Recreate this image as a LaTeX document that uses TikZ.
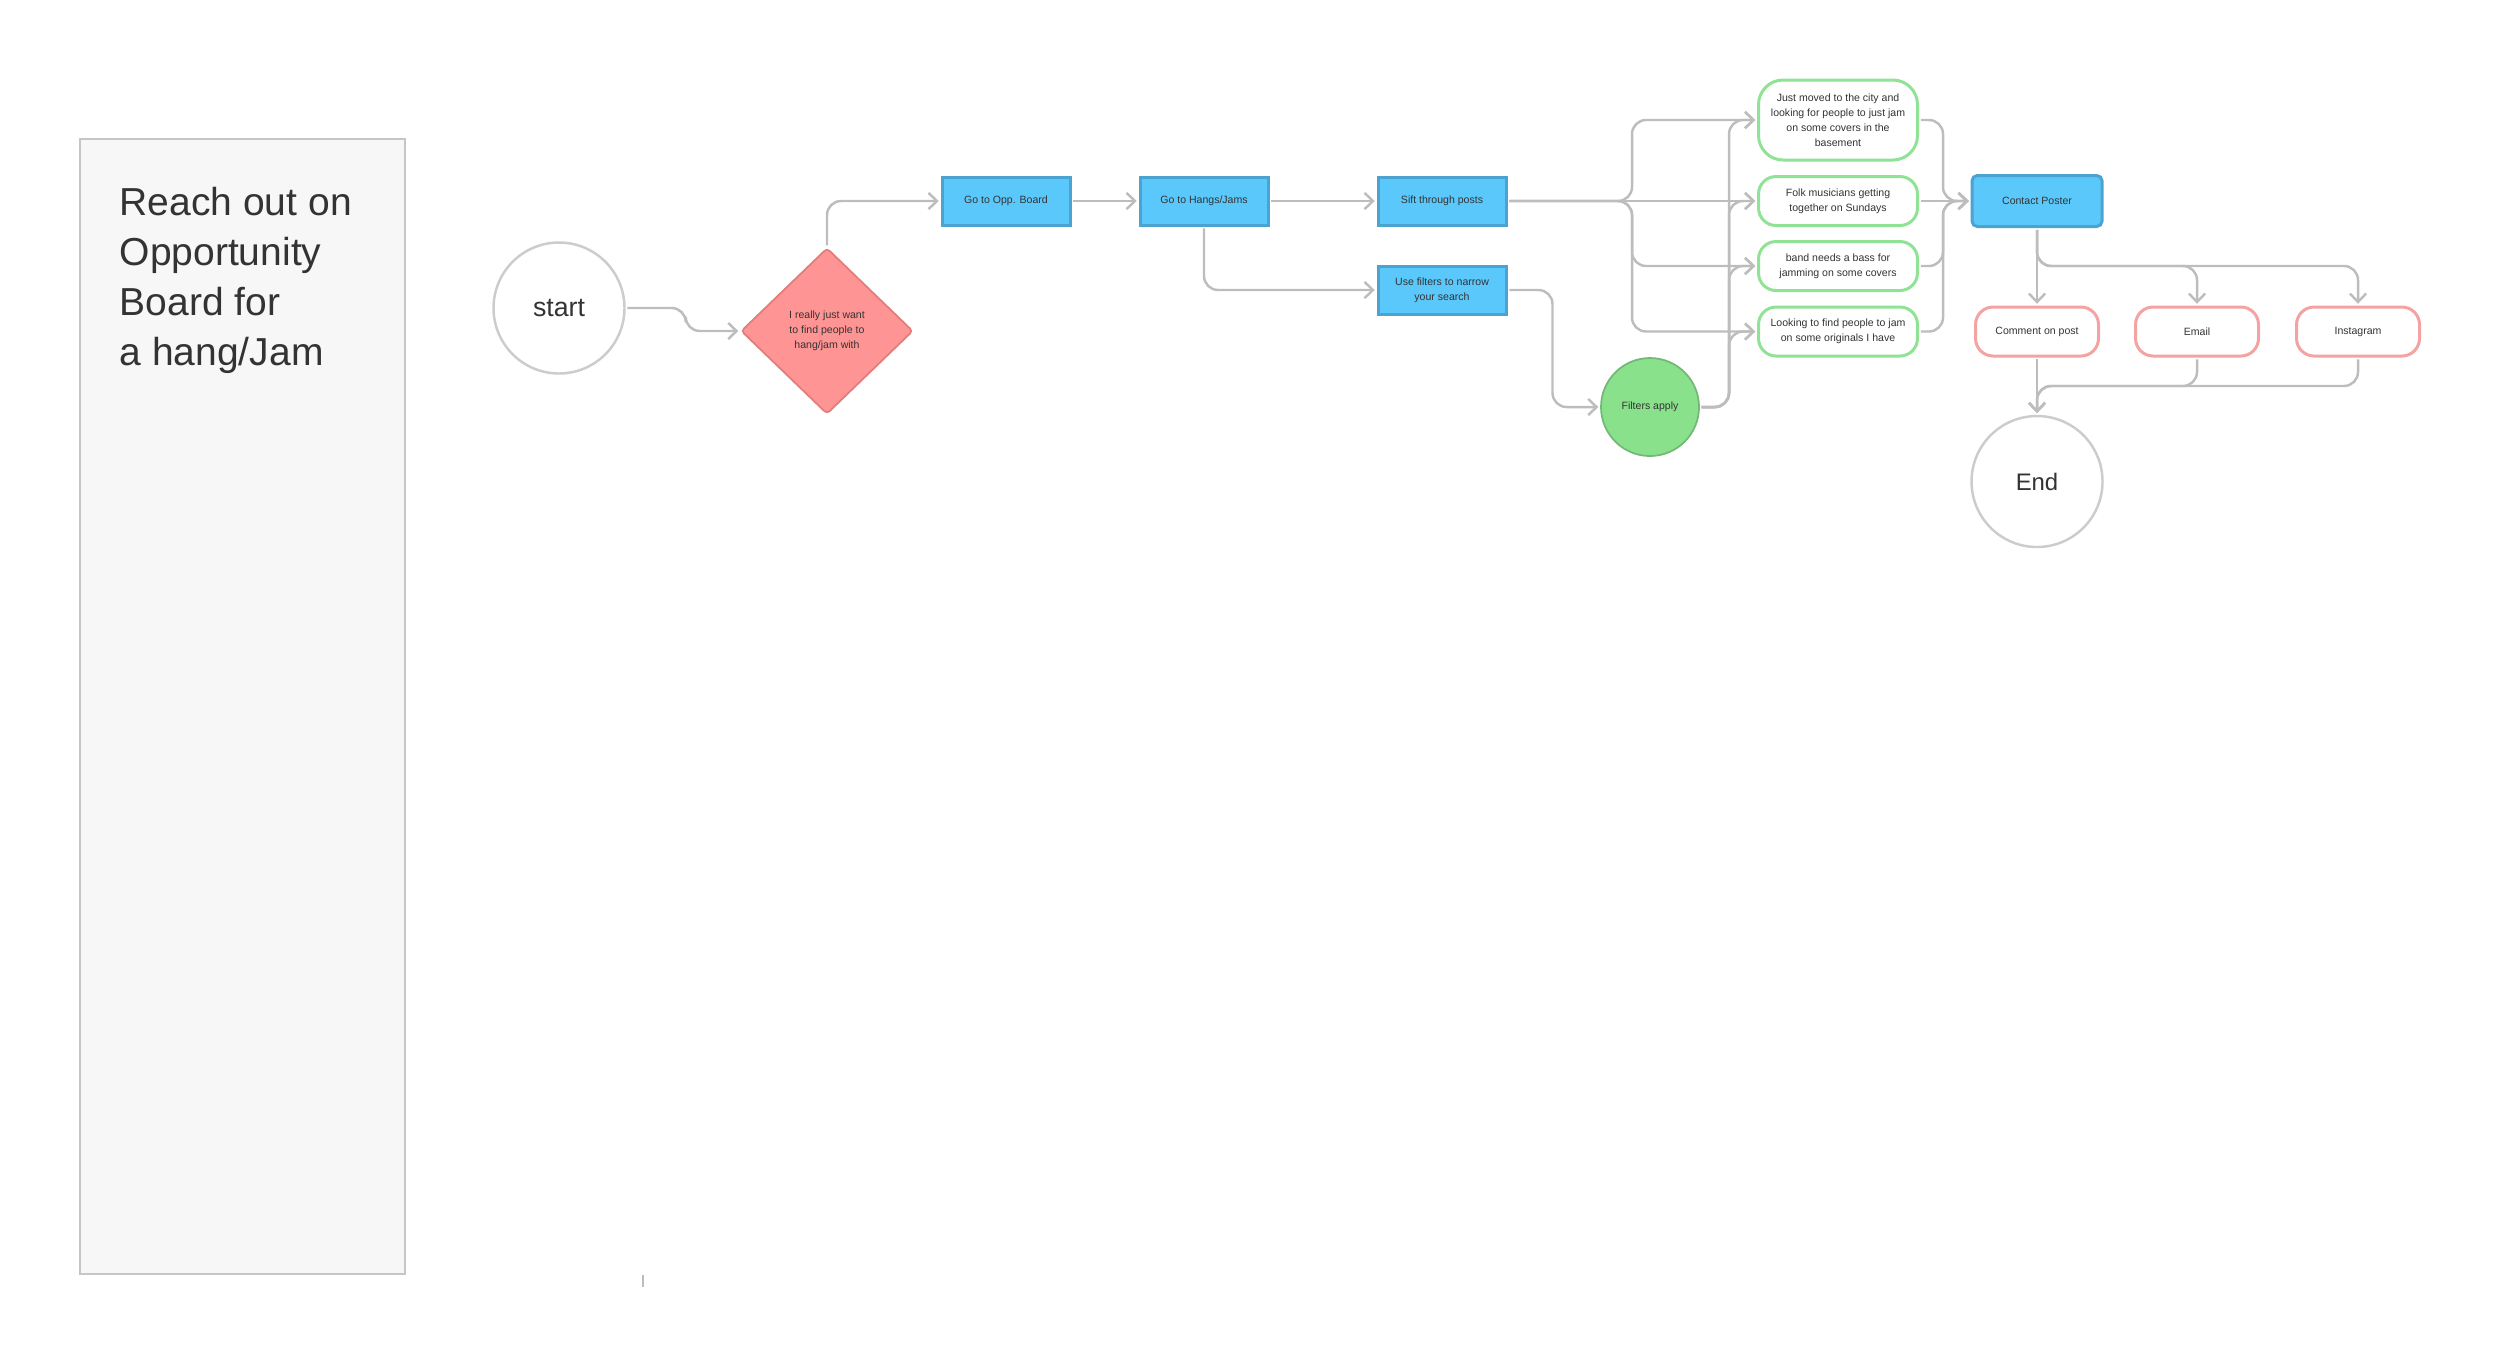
\documentclass[tikz,border=0pt]{standalone}
\usepackage{fontspec}
\setmainfont{Liberation Sans}
\usetikzlibrary{shapes.geometric, arrows.meta}

\definecolor{linegray}{HTML}{BDBDBD}
\definecolor{ringgray}{HTML}{CCCCCC}
\definecolor{panelfill}{HTML}{F7F7F7}
\definecolor{panelline}{HTML}{C6C6C6}
\definecolor{skyfill}{HTML}{5BC8FB}
\definecolor{skyline}{HTML}{4DA3D0}
\definecolor{rosefill}{HTML}{FF9494}
\definecolor{roseline}{HTML}{E07E7E}
\definecolor{mintfill}{HTML}{89E28B}
\definecolor{mintline}{HTML}{74B877}
\definecolor{postline}{HTML}{90E294}
\definecolor{wayline}{HTML}{F4A2A2}
\definecolor{inkgray}{HTML}{333333}

\begin{document}
\begin{tikzpicture}[y=-1cm,
		smalltext/.style={font=\fontsize{3}{4.3}\selectfont, text=inkgray, align=center, inner sep=0pt},
		ring/.style={shape=circle, draw=ringgray, line width=0.7pt, fill=white, minimum size=1.31cm, inner sep=0pt, text=inkgray},
		stepbox/.style={smalltext, shape=rectangle, fill=skyfill, draw=skyline, line width=0.85pt, minimum width=1.28cm, minimum height=0.48cm},
		postbox/.style={smalltext, shape=rectangle, rounded corners=5pt, draw=postline, line width=0.85pt, fill=white, minimum width=1.59cm, minimum height=0.49cm},
		waybox/.style={smalltext, shape=rectangle, rounded corners=5pt, draw=wayline, line width=0.85pt, fill=white, minimum width=1.23cm, minimum height=0.49cm},
		flow/.style={draw=linegray, line width=0.7pt, rounded corners=4pt, shorten >=0.5pt, shorten <=0.5pt, -{Straight Barb[length=2.4pt,width=4.6pt]}}]
				\useasboundingbox (0,0) rectangle (25,13.67);
				
				% left panel
				\draw[fill=panelfill, draw=panelline, line width=0.6pt] (0.80,1.39) rectangle (4.05,12.74);
				\node[anchor=north west, align=left, inner sep=0pt, text=inkgray, font=\fontsize{11.1}{14.2}\selectfont] (title) at (1.19,1.87) {Reach out on\\Opportunity\\Board for\\a hang/Jam};
				
				\node[ring, font=\fontsize{7.6}{9}\selectfont] (start) at (5.59,3.08) {start};
				\node[smalltext, shape=diamond, fill=rosefill, draw=roseline, line width=0.5pt, minimum width=1.72cm, minimum height=1.66cm, rounded corners=1pt] (idea) at (8.27,3.31) {I really just want\\to find people to\\hang/jam with};
				
				\node[stepbox] (opp) at (10.06,2.01) {Go to Opp. Board};
				\node[stepbox] (hangs) at (12.04,2.01) {Go to Hangs/Jams};
				\node[stepbox] (sift) at (14.42,2.01) {Sift through posts};
				\node[stepbox] (filt) at (14.42,2.90) {Use filters to narrow\\your search};
				\node[smalltext, shape=circle, fill=mintfill, draw=mintline, line width=0.5pt, minimum size=0.98cm] (apply) at (16.50,4.07) {Filters apply};
				
				\node[postbox, minimum height=0.80cm, rounded corners=7pt] (post1) at (18.38,1.20) {Just moved to the city and\\looking for people to just jam\\on some covers in the\\basement};
				\node[postbox] (post2) at (18.38,2.01) {Folk musicians getting\\together on Sundays};
				\node[postbox] (post3) at (18.38,2.66) {band needs a bass for\\jamming on some covers};
				\node[postbox] (post4) at (18.38,3.315) {Looking to find people to jam\\on some originals I have};
				
				\node[stepbox, rounded corners=1.5pt, minimum width=1.30cm, minimum height=0.51cm] (contact) at (20.37,2.01) {Contact Poster};
				\node[waybox] (comment) at (20.37,3.315) {Comment on post};
				\node[waybox] (email) at (21.97,3.315) {Email};
				\node[waybox] (insta) at (23.58,3.315) {Instagram};
				\node[ring, font=\fontsize{6.8}{8}\selectfont] (finish) at (20.37,4.815) {End};
				
				\coordinate (forkA) at (16.32,2.01);
				\coordinate (forkB) at (17.29,4.07);
				\coordinate (joinC) at (19.43,2.01);
				\coordinate (splitD) at (20.37,2.66);
				\coordinate (mergeE) at (20.37,3.86);
				
				\draw[flow] (start.east) -- ++(0.6,0) |- (idea.west);
				\draw[flow] (idea.north) |- (opp.west);
				\draw[flow] (opp) -- (hangs);
				\draw[flow] (hangs) -- (sift);
				\draw[flow] (hangs.south) |- (filt.west);
				\draw[flow] (filt.east) -- ++(0.45,0) |- (apply.west);
				
				\draw[flow] (sift.east) -- (post2.west);
				\draw[flow] (post2.east) -- (contact.west);
				\foreach \p in {post1,post3,post4} {
					\draw[flow] (sift.east) -- (forkA) |- (\p.west);
					\draw[flow] (\p.east) -| (joinC) -- (contact.west);
				}
				\foreach \p in {post1,post2,post3,post4}
					\draw[flow] (apply.east) -- (forkB) |- (\p.west);
				
				\draw[flow] (contact.south) -- (comment.north);
				\draw[flow] (contact.south) -- (splitD) -| (email.north);
				\draw[flow] (contact.south) -- (splitD) -| (insta.north);
				\draw[flow] (comment.south) -- (finish.north);
				\draw[flow] (email.south) |- (mergeE) -- (finish.north);
				\draw[flow] (insta.south) |- (mergeE) -- (finish.north);
				
				\draw[draw=linegray, line width=0.6pt] (6.43,12.75) -- (6.43,12.87);
				\end{tikzpicture}
\end{document}
